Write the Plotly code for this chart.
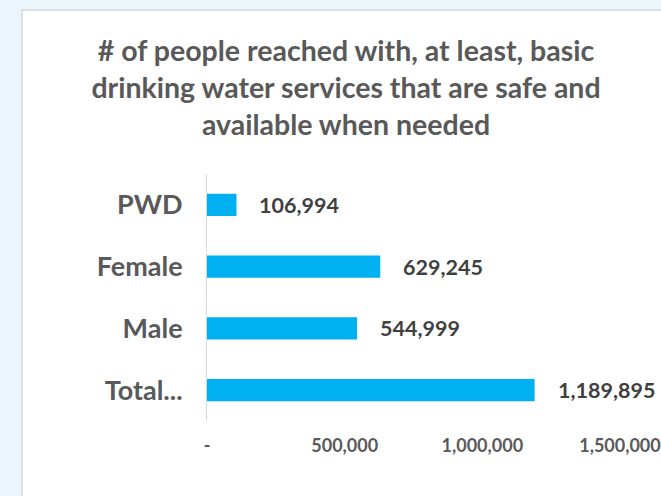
import plotly.graph_objects as go

categories = ["Total...", "Male", "Female", "PWD"]
values = [1189895, 544999, 629245, 106994]
tick_vals = [0, 500000, 1000000, 1500000]
tick_text = ["-", "500,000", "1,000,000", "1,500,000"]
title_text = "# of people reached with, at least, basic<br>drinking water services that are safe and<br>available when needed"

W, H = 661, 496
ml, mr, mt, mb = 207, 41, 174, 75
pw = W - ml - mr
ph = H - mt - mb

fig = go.Figure()
fig.add_trace(go.Bar(
    y=categories, x=values, orientation="h",
    marker=dict(color="#00B0F0", line=dict(width=0)),
    width=0.36, hoverinfo="skip",
))

for c, v in zip(categories, values):
    fig.add_annotation(x=v, y=c, xref="x", yref="y", text=f"{v:,}",
                       showarrow=False, xanchor="left", xshift=21,
                       font=dict(family="Lato", size=21.5, color="#404040", weight="bold"))

# card background
fig.add_shape(type="rect", xref="paper", yref="paper",
              x0=(22 - ml) / pw, x1=(W + 20 - ml) / pw,
              y0=-(H + 20 - (H - mb)) / ph, y1=((H - mb) - 10) / ph,
              fillcolor="white", line=dict(color="#D9D9D9", width=1.5), layer="below")

fig.update_layout(
    width=W, height=H,
    margin=dict(l=ml, r=mr, t=mt, b=mb, pad=0, autoexpand=False),
    paper_bgcolor="#EAF6FC", plot_bgcolor="rgba(0,0,0,0)",
    showlegend=False,
    title=dict(text=title_text, x=346 / W, xref="container", xanchor="center",
               y=1 - 61 / H, yref="container", yanchor="top",
               font=dict(family="Lato", size=28.5, color="#595959", weight="bold")),
    xaxis=dict(range=[0, 1500000], tickvals=tick_vals, ticktext=tick_text,
               showgrid=False, zeroline=False, showline=False, automargin=False,
               ticks="", ticklabelstandoff=12,
               tickfont=dict(family="Lato", size=18, color="#595959", weight="bold")),
    yaxis=dict(range=[-0.5, 3.5], showgrid=False, zeroline=False, automargin=False,
               showline=True, linecolor="#D9D9D9", linewidth=1,
               ticks="", ticklabelstandoff=18,
               tickfont=dict(family="Lato", size=27, color="#595959", weight="bold")),
)

fig.write_html("out.html", config={"displayModeBar": False},
               post_script="document.body.style.margin='0';document.body.style.overflow='hidden';")
